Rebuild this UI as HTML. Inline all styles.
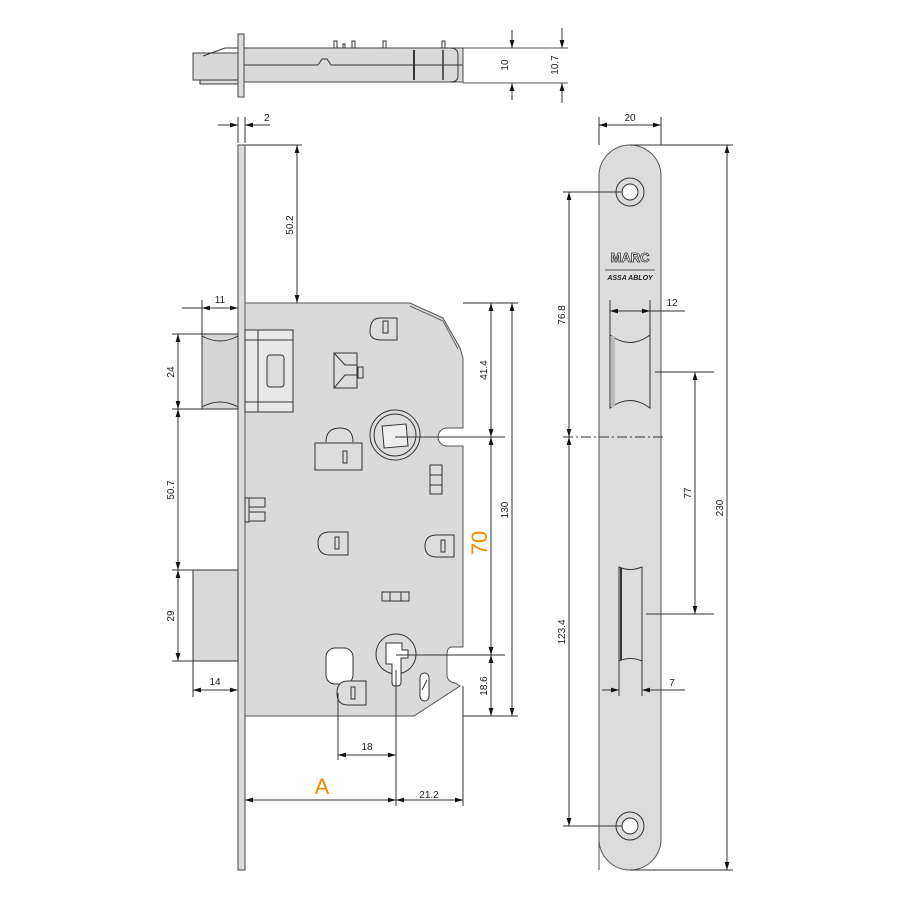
<!DOCTYPE html>
<html><head><meta charset="utf-8"><style>
html,body{margin:0;padding:0;background:#fff;}
svg{display:block;}
text{font-family:"Liberation Sans",sans-serif;font-size:10px;fill:#222;}
</style></head><body>
<svg width="900" height="900" viewBox="0 0 900 900" xmlns="http://www.w3.org/2000/svg">
<defs>
<marker id="a" viewBox="0 0 10 6" refX="10" refY="3" markerWidth="8" markerHeight="5" orient="auto-start-reverse"><path d="M0,0L10,3L0,6z" fill="#111"/></marker>
</defs>
<g stroke="#333" stroke-width="1" fill="none">

<!-- TOP VIEW -->
<rect x="193" y="53" width="45" height="27" fill="#d8d8d8" stroke="#444"/>
<path d="M203,56 L225,48 L244,48" />
<rect x="200" y="80" width="38" height="4" fill="#ddd"/>
<rect x="244" y="48" width="219" height="34" fill="#d9d9d9" stroke="#444"/>
<line x1="244" y1="65" x2="318" y2="65"/><path d="M318,65 L322,59 L327,59 L331,65 L463,65"/>
<line x1="414" y1="50" x2="414" y2="80" stroke-width="2"/>
<line x1="443" y1="50" x2="443" y2="80" stroke-width="1.5"/>
<path d="M450,48 Q458,48 458,55 L458,76 Q458,82 450,82"/>
<rect x="334" y="41" width="3" height="7"/><rect x="343" y="44" width="2" height="4"/><rect x="352" y="41" width="3" height="7"/><rect x="383" y="41" width="3" height="7"/><rect x="442" y="41" width="3" height="7"/>
<rect x="238" y="34" width="6" height="63" fill="#ddd" stroke="#444"/>
<!-- top dims -->
<line x1="463" y1="48" x2="568" y2="48" stroke="#555"/><line x1="463" y1="83" x2="568" y2="83" stroke="#555"/>
<line x1="512" y1="30" x2="512" y2="48" marker-end="url(#a)"/><line x1="512" y1="100" x2="512" y2="83" marker-end="url(#a)"/>
<line x1="562" y1="28" x2="562" y2="48" marker-end="url(#a)"/><line x1="562" y1="103" x2="562" y2="83" marker-end="url(#a)"/>

<!-- "2" dim -->
<line x1="238" y1="117" x2="238" y2="143"/><line x1="245" y1="117" x2="245" y2="143"/>
<line x1="218" y1="125" x2="238" y2="125" marker-end="url(#a)"/><line x1="270" y1="125" x2="245" y2="125" marker-end="url(#a)"/>

<!-- SIDE VIEW faceplate -->
<rect x="238" y="145" width="7" height="725" fill="#ddd" stroke="#444"/>
<line x1="245" y1="145" x2="302" y2="145"/>
<line x1="297" y1="145" x2="297" y2="303" marker-start="url(#a)" marker-end="url(#a)"/>

<!-- lock body -->
<path d="M245,303 L410,303 L443,318 L460,348 L463,358 L463,428 L447,428 A9,9 0 0 0 447,446 L463,446 L463,647 L452,647 Q447,647 447,655 L447,676 Q448,682 455,683 L460,686 L414,716 L245,716 Z" fill="#dadada" stroke="#555"/>
<path d="M410,306 L443,321 L458,349" stroke="#666"/>
<!-- latch -->
<path d="M202,334 L238,334 L238,409 L202,409 Z" fill="#d6d6d6"/>
<path d="M202,336 Q220,346 238,336 M202,407 Q220,397 238,407"/>
<rect x="245" y="330" width="48" height="82" fill="#e8e8e8"/>
<line x1="258" y1="330" x2="258" y2="412"/><line x1="245" y1="340" x2="293" y2="340"/><line x1="245" y1="402" x2="293" y2="402"/>
<rect x="267" y="355" width="17" height="32" rx="3" fill="#ddd"/>
<!-- deadbolt -->
<rect x="193" y="570" width="45" height="91" fill="#d9d9d9"/>
<!-- small parts -->
<g fill="#ddd">
<path d="M370,332 Q370,318 380,318 L397,318 L397,340 L382,340 Q370,340 370,332 Z"/><rect x="383" y="321" width="5" height="12"/>
<path d="M334,353 L357,353 L357,388 L334,388 Z"/><path d="M334,353 L345,365 L357,365 M334,388 L345,375 L357,375"/><rect x="358" y="367" width="5" height="11"/>
<path d="M326,442 Q326,428 340,428 Q353,428 353,442"/><rect x="315" y="443" width="47" height="27"/><rect x="343" y="451" width="4" height="12"/>
<circle cx="395" cy="435" r="25"/><circle cx="395" cy="435" r="21"/>
<rect x="383" y="425" width="24" height="22" transform="rotate(-5 395 435)" fill="#eee"/>
<rect x="430" y="465" width="12" height="29"/><line x1="430" y1="475" x2="442" y2="475"/><line x1="430" y1="485" x2="442" y2="485"/>
<rect x="245" y="498" width="4" height="24"/><rect x="249" y="498" width="16" height="9"/><rect x="249" y="512" width="16" height="9"/>
<path d="M318,543 Q318,532 330,532 L348,532 L348,555 L330,555 Q318,555 318,543 Z"/><rect x="335" y="537" width="4" height="12"/>
<path d="M425,546 Q425,535 437,535 L454,535 L454,557 L437,557 Q425,557 425,546 Z"/><rect x="441" y="540" width="4" height="12"/>
<rect x="382" y="592" width="27" height="9"/><line x1="390" y1="592" x2="390" y2="601"/><line x1="401" y1="592" x2="401" y2="601"/>
<rect x="326" y="648" width="27" height="36" rx="9" fill="#fff"/>
<path d="M337,693 Q337,681 348,681 L366,681 L366,705 L348,705 Q337,705 337,693 Z"/><rect x="351" y="687" width="4" height="12"/>
<circle cx="396" cy="654" r="20"/>
<path d="M386,643 L402,643 L402,650 L408,650 L408,658 L401,658 L401,682 Q401,686 397,686 L395,686 Q392,686 392,682 L392,664 L386,664 Z" fill="#fff"/>
<rect x="420" y="673" width="9" height="28" rx="4.5" fill="#fff"/><line x1="422" y1="690" x2="427" y2="680"/>
</g>

<!-- left dims -->
<line x1="202" y1="300" x2="202" y2="334"/>
<line x1="182" y1="308" x2="202" y2="308" /><line x1="202" y1="308" x2="238" y2="308" marker-start="url(#a)" marker-end="url(#a)"/>
<line x1="172" y1="334" x2="202" y2="334"/><line x1="172" y1="409" x2="202" y2="409"/><line x1="172" y1="570" x2="193" y2="570"/><line x1="172" y1="661" x2="193" y2="661"/>
<line x1="178" y1="334" x2="178" y2="409" marker-start="url(#a)" marker-end="url(#a)"/>
<line x1="178" y1="409" x2="178" y2="570" marker-start="url(#a)" marker-end="url(#a)"/>
<line x1="178" y1="570" x2="178" y2="661" marker-start="url(#a)" marker-end="url(#a)"/>
<line x1="193" y1="661" x2="193" y2="697"/>
<line x1="193" y1="690" x2="238" y2="690" marker-start="url(#a)" marker-end="url(#a)"/>

<!-- right dims -->
<line x1="463" y1="303" x2="518" y2="303"/><line x1="463" y1="716" x2="518" y2="716"/>
<line x1="395" y1="437" x2="505" y2="437"/><line x1="396" y1="655" x2="505" y2="655"/>
<line x1="491" y1="303" x2="491" y2="437" marker-start="url(#a)" marker-end="url(#a)"/>
<line x1="491" y1="437" x2="491" y2="655" marker-start="url(#a)" marker-end="url(#a)"/>
<line x1="491" y1="655" x2="491" y2="716" marker-start="url(#a)" marker-end="url(#a)"/>
<line x1="512" y1="303" x2="512" y2="716" marker-start="url(#a)" marker-end="url(#a)"/>

<!-- bottom dims -->
<line x1="338" y1="693" x2="338" y2="760"/><line x1="396" y1="670" x2="396" y2="806"/><line x1="463" y1="686" x2="463" y2="806"/>
<line x1="338" y1="755" x2="396" y2="755" marker-start="url(#a)" marker-end="url(#a)"/>
<line x1="245" y1="800" x2="396" y2="800" marker-start="url(#a)" marker-end="url(#a)"/>
<line x1="396" y1="800" x2="463" y2="800" marker-start="url(#a)" marker-end="url(#a)"/>

<!-- RIGHT faceplate -->
<path d="M599,870 L599,176 A31,31 0 0 1 661,176 L661,839 A31,31 0 0 1 599,839 Z" fill="#dcdcdc" stroke="#555"/>
<circle cx="630" cy="192" r="14"/><circle cx="630" cy="192" r="8" fill="#fff"/>
<circle cx="630" cy="826" r="14"/><circle cx="630" cy="826" r="8" fill="#fff"/>
<line x1="605" y1="270" x2="655" y2="270" stroke-width="0.8"/>
<path d="M610,335 Q630,350 650,335 L650,408 Q630,393 610,408 Z" fill="#ddd"/>
<rect x="611" y="336" width="4" height="71" fill="#bbb" stroke="none"/>
<path d="M619,567 Q630,572 642,567 L642,661 Q630,656 619,661 Z" fill="#ddd"/>
<line x1="621" y1="568" x2="621" y2="660" stroke-width="2"/>
<line x1="599" y1="117" x2="599" y2="145"/><line x1="661" y1="117" x2="661" y2="145"/>
<line x1="599" y1="125" x2="661" y2="125" marker-start="url(#a)" marker-end="url(#a)"/>
<line x1="630" y1="145" x2="733" y2="145"/><line x1="630" y1="870" x2="733" y2="870"/>
<line x1="727" y1="145" x2="727" y2="870" marker-start="url(#a)" marker-end="url(#a)"/>
<line x1="563" y1="192" x2="622" y2="192"/><line x1="563" y1="826" x2="622" y2="826"/>
<line x1="563" y1="437" x2="666" y2="437" stroke-dasharray="10,3,2,3"/>
<line x1="569" y1="192" x2="569" y2="437" marker-start="url(#a)" marker-end="url(#a)"/>
<line x1="569" y1="437" x2="569" y2="826" marker-start="url(#a)" marker-end="url(#a)"/>
<line x1="655" y1="372" x2="714" y2="372"/><line x1="646" y1="614" x2="714" y2="614"/>
<line x1="695" y1="372" x2="695" y2="614" marker-start="url(#a)" marker-end="url(#a)"/>
<line x1="610" y1="300" x2="610" y2="335"/><line x1="650" y1="300" x2="650" y2="335"/>
<line x1="610" y1="311" x2="650" y2="311" marker-start="url(#a)" marker-end="url(#a)"/><line x1="650" y1="311" x2="685" y2="311"/>
<line x1="619" y1="661" x2="619" y2="696"/><line x1="642" y1="661" x2="642" y2="696"/>
<line x1="602" y1="690" x2="619" y2="690" marker-end="url(#a)"/><line x1="685" y1="690" x2="642" y2="690" marker-end="url(#a)"/>
</g>

<!-- texts -->
<text x="264" y="121">2</text>
<text transform="translate(508,65) rotate(-90)" text-anchor="middle">10</text>
<text transform="translate(558,65) rotate(-90)" text-anchor="middle">10.7</text>
<text transform="translate(293,225) rotate(-90)" text-anchor="middle">50.2</text>
<text x="220" y="303" text-anchor="middle">11</text>
<text transform="translate(174,372) rotate(-90)" text-anchor="middle">24</text>
<text transform="translate(174,490) rotate(-90)" text-anchor="middle">50.7</text>
<text transform="translate(174,616) rotate(-90)" text-anchor="middle">29</text>
<text x="215" y="685" text-anchor="middle">14</text>
<text transform="translate(487,370) rotate(-90)" text-anchor="middle">41.4</text>
<text transform="translate(487,686) rotate(-90)" text-anchor="middle">18.6</text>
<text transform="translate(508,510) rotate(-90)" text-anchor="middle">130</text>
<text transform="translate(487,543) rotate(-90)" text-anchor="middle" style="font-size:22px;fill:#f08a00;">70</text>
<text x="367" y="750" text-anchor="middle">18</text>
<text x="322" y="794" text-anchor="middle" style="font-size:22px;fill:#f08a00;">A</text>
<text x="429" y="798" text-anchor="middle">21.2</text>
<text x="630" y="121" text-anchor="middle">20</text>
<text transform="translate(723,508) rotate(-90)" text-anchor="middle">230</text>
<text transform="translate(565,315) rotate(-90)" text-anchor="middle">76.8</text>
<text transform="translate(565,632) rotate(-90)" text-anchor="middle">123.4</text>
<text transform="translate(691,493) rotate(-90)" text-anchor="middle">77</text>
<text x="672" y="306" text-anchor="middle">12</text>
<text x="672" y="686" text-anchor="middle">7</text>
<text x="630" y="262" text-anchor="middle" style="font-size:13px;font-weight:bold;fill:#fff;stroke:#333;stroke-width:0.8;">MARC</text>
<text x="630" y="280" text-anchor="middle" style="font-size:7px;font-style:italic;font-weight:bold;">ASSA ABLOY</text>
</svg>
</body></html>
